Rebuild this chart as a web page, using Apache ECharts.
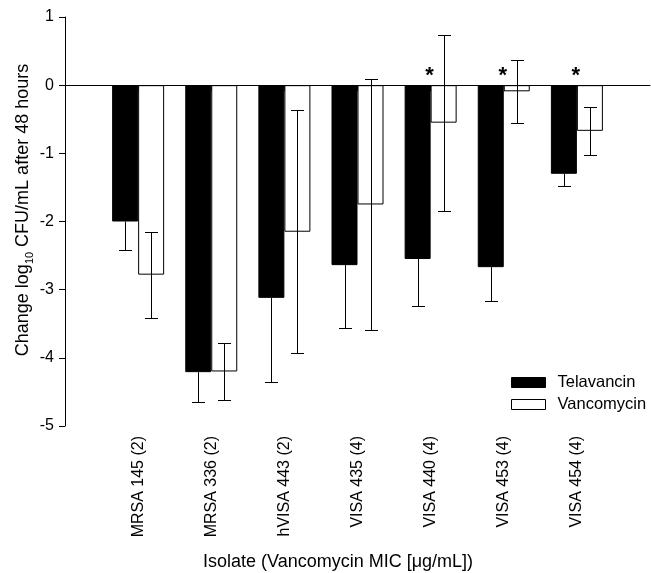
<!DOCTYPE html>
<html>
<head>
<meta charset="utf-8">
<script src="https://cdn.jsdelivr.net/npm/echarts@6/dist/echarts.min.js"></script>
<style>html,body{margin:0;padding:0;background:#fff}#c{width:651px;height:573px}</style>
</head>
<body>
<div id="c"></div>
<script>
var categories = ['MRSA 145 (2)', 'MRSA 336 (2)', 'hVISA 443 (2)', 'VISA 435 (4)', 'VISA 440 (4)', 'VISA 453 (4)', 'VISA 454 (4)'];
var telavancin = [-2.0, -4.21, -3.12, -2.64, -2.55, -2.67, -1.30];
var telavancinSD = [0.42, 0.44, 1.23, 0.92, 0.69, 0.50, 0.18];
var vancomycin = [-2.78, -4.20, -2.15, -1.75, -0.55, -0.09, -0.67];
var vancomycinSD = [0.63, 0.42, 1.78, 1.84, 1.29, 0.46, 0.35];
var significant = [4, 5, 6];
var yTicks = [-5, -4, -3, -2, -1, 0, 1];

var FONT = 'Liberation Sans, Arial, sans-serif';
var cats = [''].concat(categories).concat(['']);
function pad(a) { return [null].concat(a).concat([null]); }

var BARW = 26;
function errRender(means, sds, side, lowerOnly) {
  return function (params, api) {
    var i = api.value(0);
    var m = means[i], s = sds[i];
    var c = api.coord([i + 1, m]);
    var x = Math.round(c[0] + side * BARW / 2) + 0.5;
    var lo = Math.round(api.coord([i + 1, m - s])[1]) + 0.5;
    var hi = lowerOnly ? c[1] : Math.round(api.coord([i + 1, m + s])[1]) + 0.5;
    var cap = 6.5;
    var st = { stroke: '#000', lineWidth: 1 };
    var children = [
      { type: 'line', shape: { x1: x, y1: hi, x2: x, y2: lo }, style: st },
      { type: 'line', shape: { x1: x - cap, y1: lo, x2: x + cap, y2: lo }, style: st }
    ];
    if (!lowerOnly) children.push({ type: 'line', shape: { x1: x - cap, y1: hi, x2: x + cap, y2: hi }, style: st });
    return { type: 'group', children: children };
  };
}
var idx = categories.map(function (_, i) { return [i]; });

var chart = echarts.init(document.getElementById('c'), null, { renderer: 'canvas' });
chart.setOption({
  animation: false,
  backgroundColor: '#fff',
  textStyle: { fontFamily: FONT },
  grid: { left: 65, right: 1, top: 17, bottom: 147, containLabel: false },
  legend: {
    orient: 'vertical', left: 506, top: 369, itemWidth: 34, itemHeight: 10, itemGap: 5,
    icon: 'rect',
    textStyle: { fontSize: 16.5, color: '#000', fontFamily: FONT, padding: [0, 0, 0, 7] },
    data: [
      { name: 'Telavancin', itemStyle: { color: '#000', borderColor: '#000', borderWidth: 1 } },
      { name: 'Vancomycin', itemStyle: { color: '#fff', borderColor: '#000', borderWidth: 1 } }
    ]
  },
  xAxis: {
    type: 'category', data: cats, boundaryGap: false,
    axisLine: { lineStyle: { color: '#000', width: 1 } },
    axisTick: { show: true, length: 6, inside: false, interval: function (i) { return i > 0 && i < cats.length - 1; }, lineStyle: { color: '#000' } },
    axisLabel: { rotate: 90, fontSize: 16, color: '#000', margin: 10, fontFamily: FONT, interval: 0 },
    splitLine: { show: false }
  },
  yAxis: {
    type: 'value', min: -5, max: 1, interval: 1,
    axisLine: { show: true, lineStyle: { color: '#000', width: 1 } },
    axisTick: { show: true, length: 6, lineStyle: { color: '#000' } },
    axisLabel: { fontSize: 16, color: '#000', margin: 11, fontFamily: FONT,
      formatter: function (v) { return yTicks.indexOf(v) >= 0 ? String(v) : ''; } },
    splitLine: { show: false }
  },
  graphic: [
    {
      type: 'text', left: 203, top: 553,
      style: { text: 'Isolate (Vancomycin MIC [\u03bcg/mL])', font: '18px ' + FONT, fill: '#000' }
    },
    {
      type: 'text', x: 23, y: 210, rotation: Math.PI / 2,
      style: {
        text: 'Change log{sub|10} CFU/mL after 48 hours', font: '18px ' + FONT, fill: '#000',
        align: 'center', verticalAlign: 'middle', lineHeight: 24,
        rich: { sub: { fontSize: 11, lineHeight: 11, verticalAlign: 'bottom', fontFamily: FONT, fill: '#000' } }
      }
    }
  ],
  series: [
    {
      name: 'Telavancin', type: 'bar', data: pad(telavancin), barWidth: BARW, barGap: '0%',
      itemStyle: { color: '#000', borderColor: '#000', borderWidth: 1 },
      markLine: { silent: true, symbol: ['none', 'none'], label: { show: false },
        lineStyle: { color: '#000', width: 1, type: 'solid' }, data: [{ yAxis: 0 }] }
    },
    {
      name: 'Vancomycin', type: 'bar', data: pad(vancomycin), barWidth: BARW, barGap: '0%',
      itemStyle: { color: '#fff', borderColor: '#000', borderWidth: 1 }
    },
    { type: 'custom', silent: true, data: idx, renderItem: errRender(telavancin, telavancinSD, -1, true), z: 5 },
    { type: 'custom', silent: true, data: idx, renderItem: errRender(vancomycin, vancomycinSD, 1, false), z: 5 },
    {
      type: 'custom', silent: true, data: significant.map(function (i) { return [i]; }), z: 6,
      renderItem: function (params, api) {
        var i = api.value(0);
        var c = api.coord([i + 1, 0]);
        return { type: 'text', style: { text: '*', x: c[0] - 1, y: c[1] - 9, font: 'bold 22px ' + FONT, fill: '#000', align: 'center', verticalAlign: 'middle' } };
      }
    }
  ]
});
</script>
</body>
</html>
